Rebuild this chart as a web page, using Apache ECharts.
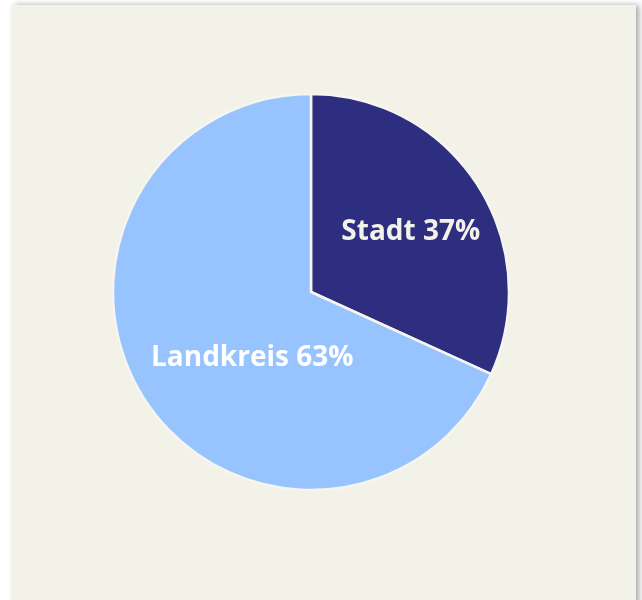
<!DOCTYPE html>
<html>
<head>
<meta charset="utf-8">
<script src="https://cdn.jsdelivr.net/npm/echarts@6/dist/echarts.min.js"></script>
<style>
html,body{margin:0;padding:0;background:#ffffff;width:642px;height:600px;overflow:hidden;}
#card{position:absolute;left:12px;top:5px;width:624px;height:640px;background:#f3f2e8;box-shadow:3px 0 6px rgba(0,0,0,0.35);}
#chart{position:absolute;left:0;top:0;width:642px;height:600px;}
</style>
</head>
<body>
<div id="card"></div>
<div id="chart"></div>
<script>
// Data
const categories = ['Stadt', 'Landkreis'];
const sliceValues = [31.8, 68.2];        // slice sizes as drawn
const labelPercents = ['37%', '63%'];    // percentages printed on the slices
const colors = ['#2e2e80', '#97c4ff'];
const labelColors = ['#f3f2e8', '#ffffff'];
const labelShift = [[14, -5], [27, 11]];

const chart = echarts.init(document.getElementById('chart'));
chart.setOption({
  backgroundColor: 'transparent',
  animation: false,
  series: [{
    type: 'pie',
    center: [311, 292],
    radius: [0, 198],
    startAngle: 90,
    clockwise: true,
    silent: true,
    itemStyle: { borderColor: '#f6f5ef', borderWidth: 2.5 },
    label: {
      show: true,
      position: 'inside',
      fontFamily: '"Open Sans", sans-serif',
      fontWeight: 'bold',
      fontSize: 28,
      formatter: p => categories[p.dataIndex] + ' ' + labelPercents[p.dataIndex]
    },
    labelLine: { show: false },
    labelLayout: p => ({ dx: labelShift[p.dataIndex][0], dy: labelShift[p.dataIndex][1] }),
    data: categories.map((c, i) => ({
      name: c,
      value: sliceValues[i],
      itemStyle: { color: colors[i] },
      label: { color: labelColors[i] }
    }))
  }]
});
</script>
</body>
</html>
